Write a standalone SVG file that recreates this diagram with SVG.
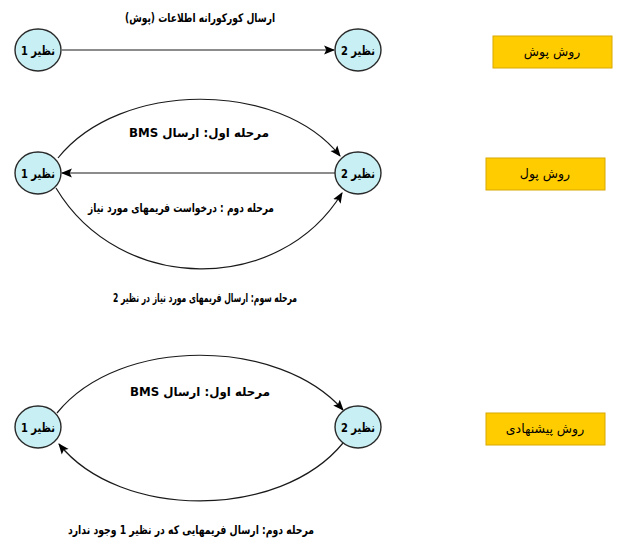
<svg xmlns="http://www.w3.org/2000/svg" width="633" height="542" viewBox="0 0 633 542">
<defs>
<style>
.node ellipse{fill:#c8f0f4;stroke:#2a2a2a;stroke-width:1.4}
.node text{font-family:"DejaVu Sans","Liberation Sans",sans-serif;font-weight:bold;font-size:12.5px;fill:#000;text-anchor:middle;direction:rtl}
.lbl{font-family:"DejaVu Sans","Liberation Sans",sans-serif;font-weight:bold;font-size:12px;fill:#000;text-anchor:middle;direction:rtl}
.box rect{fill:#ffcc00;stroke:#d9a800;stroke-width:1}
.box text{font-family:"DejaVu Sans","Liberation Sans",sans-serif;font-size:12.5px;fill:#000;text-anchor:middle;direction:rtl}
.edge{fill:none;stroke:#1a1a1a;stroke-width:1.2}
</style>
<marker id="ah" viewBox="0 0 10 10" refX="9" refY="5" markerWidth="11" markerHeight="11" markerUnits="userSpaceOnUse" orient="auto">
<path d="M0,1 L10,5 L0,9 L2,5 Z" fill="#000"/>
</marker>
</defs>
<rect width="633" height="542" fill="#fff"/>
<g id="connectors">
<path class="edge" d="M62,50 L334,50" marker-end="url(#ah)"/>
<path class="edge" d="M58,158 C120,80 280,80 340,156" marker-end="url(#ah)"/>
<path class="edge" d="M335,173 L62,173" marker-end="url(#ah)"/>
<path class="edge" d="M56,188 C120,295 280,295 342,193" marker-end="url(#ah)"/>
<path class="edge" d="M57,413 C120,335 280,338 343,410" marker-end="url(#ah)"/>
<path class="edge" d="M343,443 C280,520 120,520 59,444" marker-end="url(#ah)"/>
</g>
<g id="push-n1" class="node"><ellipse cx="38" cy="50" rx="23" ry="21"/><text x="38" y="54.5" textLength="34" lengthAdjust="spacingAndGlyphs">نظیر 1</text></g>
<g id="push-n2" class="node"><ellipse cx="358" cy="50" rx="23" ry="21"/><text x="358" y="54.5" textLength="34" lengthAdjust="spacingAndGlyphs">نظیر 2</text></g>
<g id="pull-n1" class="node"><ellipse cx="38" cy="173" rx="23" ry="21"/><text x="38" y="177.5" textLength="34" lengthAdjust="spacingAndGlyphs">نظیر 1</text></g>
<g id="pull-n2" class="node"><ellipse cx="358" cy="173" rx="23" ry="21"/><text x="358" y="177.5" textLength="34" lengthAdjust="spacingAndGlyphs">نظیر 2</text></g>
<g id="prop-n1" class="node"><ellipse cx="38" cy="427" rx="23" ry="21"/><text x="38" y="431.5" textLength="34" lengthAdjust="spacingAndGlyphs">نظیر 1</text></g>
<g id="prop-n2" class="node"><ellipse cx="358" cy="427" rx="23" ry="21"/><text x="358" y="431.5" textLength="34" lengthAdjust="spacingAndGlyphs">نظیر 2</text></g>
<g id="labels">
<text class="lbl" x="200" y="22" textLength="150" lengthAdjust="spacingAndGlyphs">ارسال کورکورانه اطلاعات (پوش)</text>
<text class="lbl" x="199" y="137" textLength="140" lengthAdjust="spacingAndGlyphs">مرحله اول: ارسال BMS</text>
<text class="lbl" x="181" y="212" textLength="186" lengthAdjust="spacingAndGlyphs">مرحله دوم : درخواست فریمهای مورد نیاز</text>
<text class="lbl" x="205" y="302" textLength="184" lengthAdjust="spacingAndGlyphs">مرحله سوم: ارسال فریمهای مورد نیاز در نظیر 2</text>
<text class="lbl" x="200" y="396" textLength="140" lengthAdjust="spacingAndGlyphs">مرحله اول: ارسال BMS</text>
<text class="lbl" x="191" y="534" textLength="246" lengthAdjust="spacingAndGlyphs">مرحله دوم: ارسال فریمهایی که در نظیر 1 وجود ندارد</text>
</g>
<g id="box-push" class="box"><rect x="493" y="36" width="119" height="32"/><text x="552" y="56">روش پوش</text></g>
<g id="box-pull" class="box"><rect x="486" y="158" width="119" height="32"/><text x="545" y="178">روش پول</text></g>
<g id="box-prop" class="box"><rect x="486" y="413" width="119" height="32"/><text x="545" y="433">روش پیشنهادی</text></g>
</svg>
